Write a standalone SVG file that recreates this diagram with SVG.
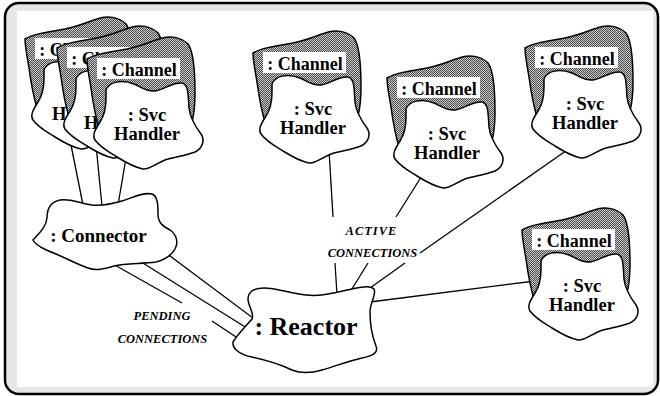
<svg xmlns="http://www.w3.org/2000/svg" xmlns:xlink="http://www.w3.org/1999/xlink" width="660" height="396" viewBox="0 0 660 396" font-family="Liberation Serif, DejaVu Serif, serif" font-weight="bold">
<style>
.blob{stroke:#000;stroke-width:1.5;stroke-linejoin:round}
.white{fill:#fff}
.grey{fill:url(#dither)}
.conn{stroke:#000;stroke-width:1.3;fill:none}
.lab{font-size:18px;text-anchor:middle}
.svc{font-size:18.5px;text-anchor:middle}
.it{font-style:italic;font-size:12.5px;text-anchor:middle}
</style>
<defs>
<pattern id="dither" width="2" height="2" patternUnits="userSpaceOnUse">
<rect width="2" height="2" fill="#cccccc"/>
<rect width="1" height="1" fill="#4a4a4a"/>
<rect x="1" y="1" width="1" height="1" fill="#4a4a4a"/>
</pattern>
<path id="chanShape" d="M -10,1 C -2,-4 12,-6 30,-9 C 45,-12 55,-17 62,-19 C 72,-23 84,-21 91,-14 C 97,-6 98,15 98,35 C 98,47 97,56 95,64 L 60,40 L 16,50 L 2,70 C -1,60 -4,45 -6,30 C -8,18 -10,8 -10,1 Z"/>
<path id="svcShape" d="M 9,32 C 12,24 24,21 37,26 C 44,29 50,34 58,33 C 66,32 74,25 84,25 C 92,25 91,38 92,50 C 93,60 98,68 104,76 C 108,82 106,90 98,94 C 88,98 76,99 68,102 C 58,106 52,112 46,111 C 36,109 28,104 20,99 C 12,94 4,90 -2,82 C -5,77 -2,72 3,64 C 7,58 9,50 9,40 Z"/>
</defs>

<rect x="5" y="3" width="653" height="391" rx="14" fill="#e6e6e6" stroke="#000" stroke-width="2.5"/>
<rect x="17" y="11" width="636" height="376" fill="#fff"/>

<g id="connectors">
<line class="conn" x1="70" y1="140" x2="83" y2="205"/>
<line class="conn" x1="96" y1="145" x2="102" y2="206"/>
<line class="conn" x1="126" y1="158" x2="118" y2="205"/>
<line class="conn" x1="113" y1="264" x2="182" y2="303"/>
<line class="conn" x1="212" y1="321" x2="236" y2="337"/>
<line class="conn" x1="138" y1="260" x2="250" y2="330"/>
<line class="conn" x1="166" y1="253" x2="257" y2="321"/>
<line class="conn" x1="329" y1="150" x2="333" y2="217"/>
<line class="conn" x1="335" y1="263" x2="337" y2="295"/>
<line class="conn" x1="428" y1="166" x2="396" y2="217"/>
<line class="conn" x1="368" y1="263" x2="350" y2="292"/>
<line class="conn" x1="570" y1="148" x2="420" y2="253"/>
<line class="conn" x1="405" y1="263" x2="370" y2="288"/>
<line class="conn" x1="535" y1="281" x2="370" y2="302"/>
</g>

<g id="handler-stack-back" transform="translate(35,38)">
<use xlink:href="#chanShape" class="blob grey"/>
<rect width="83" height="21" fill="#fff"/>
<text class="lab" x="42" y="18" font-family="Liberation Serif, DejaVu Serif, serif" font-weight="bold">: Channel</text>
<use xlink:href="#svcShape" class="blob white"/>
<text class="svc" x="50" y="63" font-family="Liberation Serif, DejaVu Serif, serif" font-weight="bold">: Svc</text>
<text class="svc" x="50" y="82" font-family="Liberation Serif, DejaVu Serif, serif" font-weight="bold">Handler</text>
</g>
<g id="handler-stack-mid" transform="translate(67,47)">
<use xlink:href="#chanShape" class="blob grey"/>
<rect width="83" height="21" fill="#fff"/>
<text class="lab" x="42" y="18" font-family="Liberation Serif, DejaVu Serif, serif" font-weight="bold">: Channel</text>
<use xlink:href="#svcShape" class="blob white"/>
<text class="svc" x="50" y="63" font-family="Liberation Serif, DejaVu Serif, serif" font-weight="bold">: Svc</text>
<text class="svc" x="50" y="82" font-family="Liberation Serif, DejaVu Serif, serif" font-weight="bold">Handler</text>
</g>
<g id="handler-stack-front" transform="translate(97,58)">
<use xlink:href="#chanShape" class="blob grey"/>
<rect width="83" height="21" fill="#fff"/>
<text class="lab" x="42" y="18" font-family="Liberation Serif, DejaVu Serif, serif" font-weight="bold">: Channel</text>
<use xlink:href="#svcShape" class="blob white"/>
<text class="svc" x="50" y="63" font-family="Liberation Serif, DejaVu Serif, serif" font-weight="bold">: Svc</text>
<text class="svc" x="50" y="82" font-family="Liberation Serif, DejaVu Serif, serif" font-weight="bold">Handler</text>
</g>
<g id="handler-2" transform="translate(263,52)">
<use xlink:href="#chanShape" class="blob grey"/>
<rect width="83" height="21" fill="#fff"/>
<text class="lab" x="42" y="18" font-family="Liberation Serif, DejaVu Serif, serif" font-weight="bold">: Channel</text>
<use xlink:href="#svcShape" class="blob white"/>
<text class="svc" x="50" y="63" font-family="Liberation Serif, DejaVu Serif, serif" font-weight="bold">: Svc</text>
<text class="svc" x="50" y="82" font-family="Liberation Serif, DejaVu Serif, serif" font-weight="bold">Handler</text>
</g>
<g id="handler-3" transform="translate(397,77)">
<use xlink:href="#chanShape" class="blob grey"/>
<rect width="83" height="21" fill="#fff"/>
<text class="lab" x="42" y="18" font-family="Liberation Serif, DejaVu Serif, serif" font-weight="bold">: Channel</text>
<use xlink:href="#svcShape" class="blob white"/>
<text class="svc" x="50" y="63" font-family="Liberation Serif, DejaVu Serif, serif" font-weight="bold">: Svc</text>
<text class="svc" x="50" y="82" font-family="Liberation Serif, DejaVu Serif, serif" font-weight="bold">Handler</text>
</g>
<g id="handler-4" transform="translate(535,47)">
<use xlink:href="#chanShape" class="blob grey"/>
<rect width="83" height="21" fill="#fff"/>
<text class="lab" x="42" y="18" font-family="Liberation Serif, DejaVu Serif, serif" font-weight="bold">: Channel</text>
<use xlink:href="#svcShape" class="blob white"/>
<text class="svc" x="50" y="63" font-family="Liberation Serif, DejaVu Serif, serif" font-weight="bold">: Svc</text>
<text class="svc" x="50" y="82" font-family="Liberation Serif, DejaVu Serif, serif" font-weight="bold">Handler</text>
</g>
<g id="handler-5" transform="translate(532,229)">
<use xlink:href="#chanShape" class="blob grey"/>
<rect width="83" height="21" fill="#fff"/>
<text class="lab" x="42" y="18" font-family="Liberation Serif, DejaVu Serif, serif" font-weight="bold">: Channel</text>
<use xlink:href="#svcShape" class="blob white"/>
<text class="svc" x="50" y="63" font-family="Liberation Serif, DejaVu Serif, serif" font-weight="bold">: Svc</text>
<text class="svc" x="50" y="82" font-family="Liberation Serif, DejaVu Serif, serif" font-weight="bold">Handler</text>
</g>

<g id="connector">
<path class="blob white" d="M 33,240 C 38,234 46,228 47,218 C 47,210 50,202 60,200 C 70,198 78,203 92,205 C 104,206 112,204 122,201 C 132,198 142,192 152,194 C 158,196 158,206 158,214 C 158,222 162,226 170,230 C 176,234 179,242 175,249 C 171,256 164,260 156,262 C 140,264 126,263 114,266 C 104,269 96,271 88,268 C 76,264 66,258 56,254 C 46,250 36,246 33,240 Z"/>
<text x="98.5" y="242" font-size="19" text-anchor="middle" font-family="Liberation Serif, DejaVu Serif, serif" font-weight="bold">: Connector</text>
</g>

<g id="reactor">
<path class="blob white" d="M 233,342 C 238,334 246,326 252,319 C 255,314 248,306 248,299 C 248,292 254,288 264,288 C 276,288 290,293 306,295 C 322,297 336,292 352,289 C 362,287 370,285 374,289 C 377,294 370,302 370,312 C 370,325 372,336 376,346 C 379,353 372,356 362,358 C 348,361 336,366 322,370 C 312,373 302,374 292,370 C 280,364 266,360 252,357 C 242,355 232,350 233,342 Z"/>
<text x="306" y="335" font-size="26" text-anchor="middle" font-family="Liberation Serif, DejaVu Serif, serif" font-weight="bold">: Reactor</text>
</g>

<g id="labels" font-family="Liberation Serif, DejaVu Serif, serif" font-weight="bold">
<text class="it" x="162" y="320">PENDING</text>
<text class="it" x="162.5" y="343">CONNECTIONS</text>
<text class="it" x="371.5" y="235" letter-spacing="1">ACTIVE</text>
<text class="it" x="372.5" y="257">CONNECTIONS</text>
</g>
</svg>
